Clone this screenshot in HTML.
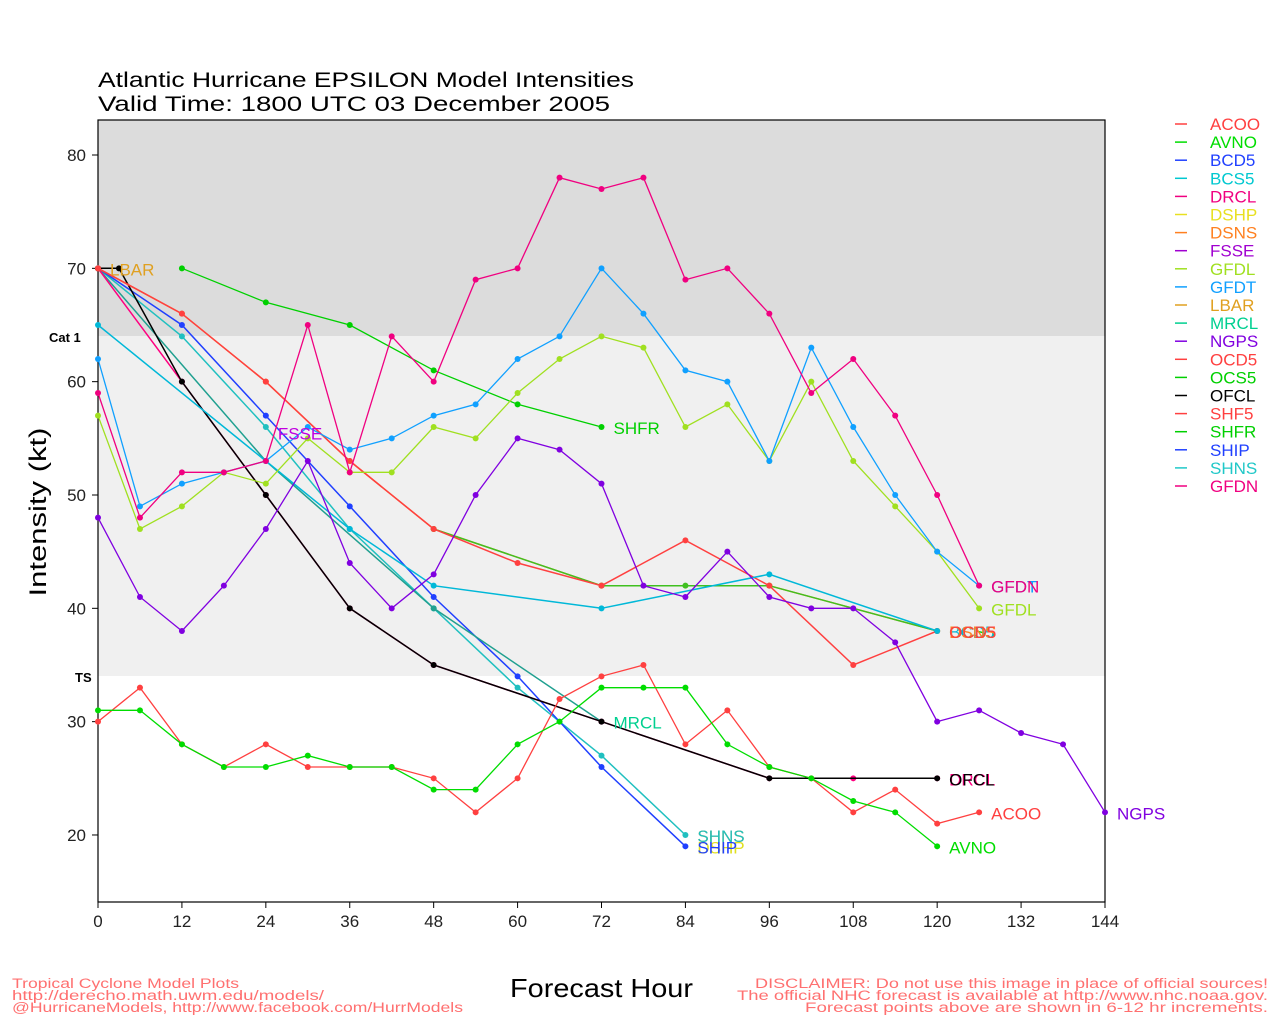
<!DOCTYPE html>
<html><head><meta charset="utf-8"><style>
body{margin:0;background:#fff;}
svg{display:block;font-family:"Liberation Sans",sans-serif;}
</style></head><body>
<svg id="s" width="1280" height="1024" xmlns="http://www.w3.org/2000/svg"></svg>
<script>
const S=document.getElementById('s');
const X=h=>98+h*1007/144, Y=v=>155+(80-v)*11.333;
let o='';
o+=`<rect x="98" y="120" width="1007" height="216" fill="#dcdcdc"/>`;
o+=`<rect x="98" y="336" width="1007" height="340" fill="#f0f0f0"/>`;
o+=`<rect x="98" y="120" width="1007" height="782" fill="none" stroke="#000" stroke-width="1.2"/>`;
for(let h=0;h<=144;h+=12){o+=`<line x1="${X(h)}" y1="902" x2="${X(h)}" y2="908" stroke="#000"/><text x="${X(h)}" y="927" font-size="17" text-anchor="middle" fill="#222">${h}</text>`;}
for(let v=20;v<=80;v+=10){o+=`<line x1="92" y1="${Y(v)}" x2="98" y2="${Y(v)}" stroke="#000"/><text x="86" y="${Y(v)+6}" font-size="17" text-anchor="end" fill="#222">${v}</text>`;}
o+=`<text x="49" y="342" font-size="13" font-weight="bold">Cat 1</text><text x="75" y="682" font-size="13" font-weight="bold">TS</text>`;
o+=`<text x="98" y="87" font-size="21" textLength="536" lengthAdjust="spacingAndGlyphs">Atlantic Hurricane EPSILON Model Intensities</text><text x="98" y="111" font-size="21" textLength="512" lengthAdjust="spacingAndGlyphs">Valid Time: 1800 UTC 03 December 2005</text>`;
o+=`<text x="46" y="512" font-size="24" transform="rotate(-90 46 512)" text-anchor="middle" textLength="169" lengthAdjust="spacingAndGlyphs">Intensity (kt)</text>`;
o+=`<text x="510" y="997" font-size="26" textLength="183" lengthAdjust="spacingAndGlyphs">Forecast Hour</text>`;
o+=`<g fill="#ff7070" font-size="13.5"><text x="12" y="988" textLength="227" lengthAdjust="spacingAndGlyphs">Tropical Cyclone Model Plots</text><text x="12" y="1000" textLength="312" lengthAdjust="spacingAndGlyphs">http://derecho.math.uwm.edu/models/</text><text x="12" y="1012" textLength="451" lengthAdjust="spacingAndGlyphs">@HurricaneModels, http://www.facebook.com/HurrModels</text>
<text x="755" y="988" textLength="513" lengthAdjust="spacingAndGlyphs">DISCLAIMER: Do not use this image in place of official sources!</text><text x="737" y="1000" textLength="531" lengthAdjust="spacingAndGlyphs">The official NHC forecast is available at http://www.nhc.noaa.gov.</text><text x="805" y="1012" textLength="463" lengthAdjust="spacingAndGlyphs">Forecast points above are shown in 6-12 hr increments.</text></g>`;
function ser(c,pts,w){let d=pts.map(p=>X(p[0]).toFixed(1)+','+Y(p[1]).toFixed(1)).join(' ');
o+=`<polyline points="${d}" fill="none" stroke="${c}" stroke-width="${w||1.5}"/>`;
pts.forEach(p=>o+=`<circle cx="${X(p[0])}" cy="${Y(p[1])}" r="3" fill="${c}"/>`);}
function seq(s,step,vals){return vals.map((v,i)=>[s+i*step,v]);}
function lab(t,c,h,v){o+=`<text x="${X(h)+12}" y="${Y(v)+7}" font-size="17" fill="${c}">${t}</text>`;}
ser('#20c0c0',seq(0,12,[70,64,56,47,40,33,27,20]));
ser('#2040ff',seq(0,12,[70,65,57,49,41,34,26,19]));
ser('#20a090',[[0,70],[24,53],[48,40],[72,30]]);
ser('#ff0080',[[0,70],[12,60],[24,50],[36,40],[48,35],[72,30],[96,25],[108,25],[120,25]]);
ser('#000',[[0,70],[3,70],[12,60],[24,50],[36,40],[48,35],[72,30],[96,25],[120,25]]);
ser('#ff8020',[[0,70],[12,66],[24,60],[36,53],[48,47],[72,42],[96,42],[120,38]]);
ser('#40c020',[[48,47],[72,42],[84,42],[96,42],[120,38]]);
ser('#ff4040',[[0,70],[12,66],[24,60],[36,53],[48,47],[60,44],[72,42],[84,46],[96,42],[108,35],[120,38]]);
ser('#00b8d8',[[0,65],[24,53],[36,47],[48,42],[72,40],[96,43],[120,38]]);
ser('#ff4040',seq(0,6,[30,33,28,26,28,26,26,26,25,22,25,32,34,35,28,31,26,25,22,24,21,22]),1.3);
ser('#00dd00',seq(0,6,[31,31,28,26,26,27,26,26,24,24,28,30,33,33,33,28,26,25,23,22,19]),1.3);
ser('#00d000',seq(12,12,[70,67,65,61,58,56]),1.3);
ser('#8000e0',seq(0,6,[48,41,38,42,47,53,44,40,43,50,55,54,51,42,41,45,41,40,40,37,30,31,29,28,22]),1.3);
ser('#a0e020',seq(0,6,[57,47,49,52,51,55,52,52,56,55,59,62,64,63,56,58,53,60,53,49,45,40]),1.3);
ser('#10a0ff',seq(0,6,[62,49,51,52,53,56,54,55,57,58,62,64,70,66,61,60,53,63,56,50,45,42]),1.3);
ser('#f00080',seq(0,6,[59,48,52,52,53,65,52,64,60,69,70,78,77,78,69,70,66,59,62,57,50,42]),1.3);
lab('LBAR','#e0a020',0,70);lab('FSSE','#c000e0',24,55.5);lab('SHFR','#00d000',72,56);lab('MRCL','#00d090',72,30);
lab('SHNS','#e0a020',84,20);lab('SHNS','#20c0c0',84,20);lab('DSHP','#e0e020',84,19);lab('SHIP','#2040ff',84,19);
lab('GFDT','#10a0ff',126,42);lab('GFDN','#f00080',126,42);lab('GFDL','#a0e020',126,40);
lab('OCS5','#00d000',120,38);lab('BCD5','#00b8d8',120,38);lab('DSNS','#ff8020',120,38);lab('OCD5','#ff4040',120,38);
lab('DRCL','#ff0080',120,25);lab('OFCL','#000',120,25);lab('ACOO','#ff4040',126,22);lab('AVNO','#00dd00',120,19);lab('NGPS','#8000e0',144,22);
const L=[['ACOO','#ff4040'],['AVNO','#00dd00'],['BCD5','#2040ff'],['BCS5','#00c8d0'],['DRCL','#f00080'],['DSHP','#e8e020'],['DSNS','#ff8020'],['FSSE','#a000d0'],['GFDL','#a0e020'],['GFDT','#10a0ff'],['LBAR','#e0a020'],['MRCL','#00d090'],['NGPS','#8000e0'],['OCD5','#ff4040'],['OCS5','#00d000'],['OFCL','#000'],['SHF5','#ff4040'],['SHFR','#00d000'],['SHIP','#2040ff'],['SHNS','#20c8c8'],['GFDN','#f00080']];
L.forEach((l,i)=>{let y=124+i*18.1;o+=`<line x1="1175" y1="${y}" x2="1187" y2="${y}" stroke="${l[1]}" stroke-width="1.5"/><text x="1210" y="${y+6}" font-size="17" fill="${l[1]}">${l[0]}</text>`;});
S.innerHTML=o;
</script>
</body></html>
